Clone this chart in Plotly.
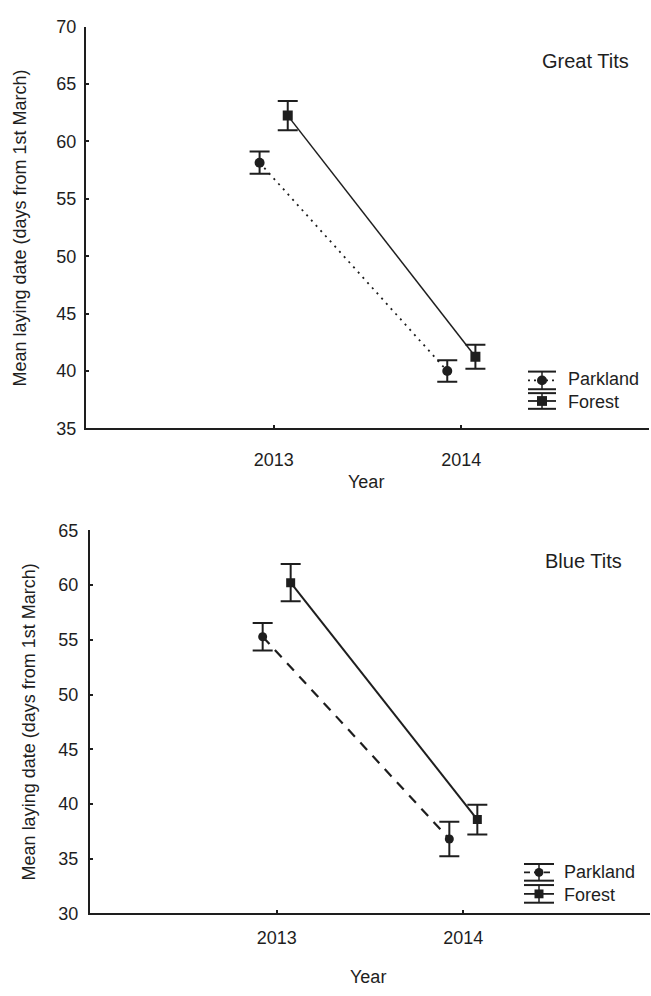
import plotly.graph_objects as go

# ---------------- data ----------------
years = [2013, 2014]
year_labels = ["2013", "2014"]

great_parkland_mean = [58.15, 40.0]
great_parkland_se = [0.97, 0.93]
great_forest_mean = [62.25, 41.25]
great_forest_se = [1.28, 1.05]

blue_parkland_mean = [55.28, 36.8]
blue_parkland_se = [1.26, 1.57]
blue_forest_mean = [60.22, 38.58]
blue_forest_se = [1.70, 1.36]

series_names = ["Parkland", "Forest"]
panel_titles = ["Great Tits", "Blue Tits"]
y_title = "Mean laying date (days from 1st March)"
x_title = "Year"

# ---------------- styling ----------------
W, H = 651, 996
INK = "#1e1e1e"
FONT = "Liberation Sans, Arial, Helvetica, sans-serif"
OFFSET = 0.075  # horizontal dodge of the two groups (years)


def px(x):
    return x / W


def py(y):
    return 1 - y / H


fig = go.Figure()


def add_series(xaxis, yaxis, means, ses, offset, symbol, msize, dash, lw, cap):
    fig.add_trace(go.Scatter(
        x=[yr + offset for yr in years], y=means,
        xaxis=xaxis, yaxis=yaxis,
        mode="lines+markers",
        line=dict(color=INK, width=lw, dash=dash),
        marker=dict(symbol=symbol, size=msize, color=INK),
        error_y=dict(type="data", array=ses, visible=True,
                     color=INK, thickness=2, width=cap),
        showlegend=False, hoverinfo="x+y",
    ))


# top panel: Great Tits
add_series("x", "y", great_parkland_mean, great_parkland_se, -OFFSET,
           "circle", 10, "2px,5px", 1.8, 10)
add_series("x", "y", great_forest_mean, great_forest_se, OFFSET,
           "square", 10, "solid", 1.5, 10)
# bottom panel: Blue Tits
add_series("x2", "y2", blue_parkland_mean, blue_parkland_se, -OFFSET,
           "circle", 9, "10px,8px", 2.2, 10)
add_series("x2", "y2", blue_forest_mean, blue_forest_se, OFFSET,
           "square", 9, "solid", 2.0, 10)

axis_common = dict(
    showline=True, linecolor=INK, linewidth=2,
    ticks="inside", ticklen=3, tickwidth=1.5, tickcolor=INK,
    showgrid=False, zeroline=False,
    tickfont=dict(family=FONT, size=18, color=INK),
    fixedrange=True,
)

fig.update_layout(
    width=W, height=H, autosize=False,
    margin=dict(l=0, r=0, t=0, b=0),
    paper_bgcolor="white", plot_bgcolor="white",
    font=dict(family=FONT, size=18, color=INK),
    xaxis=dict(domain=[px(86), px(649)], range=[2012, 2015], anchor="y",
               tickvals=years, ticktext=year_labels, ticklabelstandoff=14,
               **axis_common),
    yaxis=dict(domain=[py(427), py(17)], range=[35, 70], dtick=5, anchor="x",
               ticklabelstandoff=4, **axis_common),
    xaxis2=dict(domain=[px(90), px(650)], range=[2012, 2015], anchor="y2",
                tickvals=years, ticktext=year_labels, ticklabelstandoff=7,
                **axis_common),
    yaxis2=dict(domain=[py(922), py(531)], range=[30, 65], dtick=5, anchor="x2",
                ticklabelstandoff=6, **axis_common),
)

annotations = []


def text(x, y, s, size=18, angle=0, xanchor="center"):
    annotations.append(dict(
        x=px(x), y=py(y), xref="paper", yref="paper", text=s,
        showarrow=False, textangle=angle, xanchor=xanchor, yanchor="middle",
        font=dict(family=FONT, size=size, color=INK),
    ))


# panel titles
text(585, 52, panel_titles[0], size=20)
text(583, 562, panel_titles[1], size=20)
# axis titles
text(366, 482, x_title)
text(368, 987, x_title)
text(20, 223, y_title, angle=-90)
text(29, 727, y_title, angle=-90)

# custom legends (error-bar glyphs)
shapes = []


def glyph(cx, cy, hh, hw, dash, symbol, ms):
    line = dict(color=INK, width=2)
    for yy in (cy - hh, cy + hh):
        shapes.append(dict(type="line", xref="paper", yref="paper",
                           x0=px(cx - hw), x1=px(cx + hw), y0=py(yy), y1=py(yy),
                           line=line))
    shapes.append(dict(type="line", xref="paper", yref="paper",
                       x0=px(cx), x1=px(cx), y0=py(cy - hh), y1=py(cy + hh),
                       line=dict(color=INK, width=1.5)))
    shapes.append(dict(type="line", xref="paper", yref="paper",
                       x0=px(cx - hw), x1=px(cx + hw), y0=py(cy), y1=py(cy),
                       line=dict(color=INK, width=1.8, dash=dash)))
    shapes.append(dict(type="circle" if symbol == "circle" else "rect",
                       xref="paper", yref="paper",
                       x0=px(cx - ms), x1=px(cx + ms), y0=py(cy - ms), y1=py(cy + ms),
                       line=dict(color=INK, width=0), fillcolor=INK))


glyph(542, 378, 9, 14, "2px,4px", "circle", 5)
glyph(542, 399, 8, 14, "solid", "square", 5)
text(566, 377, series_names[0], xanchor="left")
text(566, 400, series_names[1], xanchor="left")

glyph(539, 880, 8.5, 15, "6px,4px", "circle", 4.5)
glyph(539, 902, 9, 15, "solid", "square", 4.5)
text(562, 880, series_names[0], xanchor="left")
text(562, 903, series_names[1], xanchor="left")

fig.update_layout(annotations=annotations, shapes=shapes)

fig.write_html(
    "out.html",
    config={"displayModeBar": False},
    post_script="document.body.style.margin='0';document.body.style.overflow='hidden';",
)
